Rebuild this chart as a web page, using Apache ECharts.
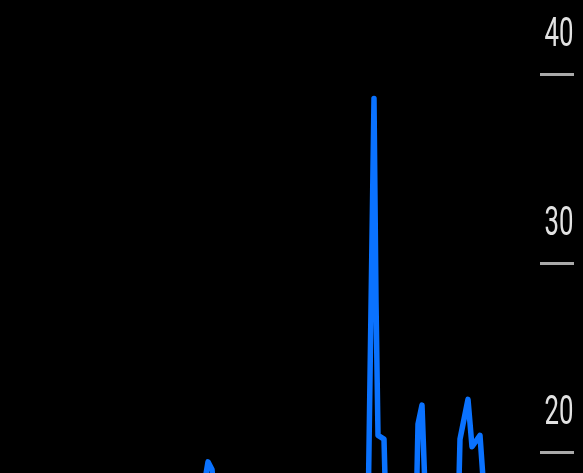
<!DOCTYPE html>
<html>
<head>
<meta charset="utf-8">
<script src="https://cdn.jsdelivr.net/npm/echarts@6/dist/echarts.min.js"></script>
<style>
  html, body { margin: 0; padding: 0; background: #000; }
  #chart { width: 583px; height: 473px; }
</style>
</head>
<body>
<div id="chart"></div>
<script>
// Trading-day index of each observation
const days = [0, 12, 25, 40, 55, 70, 85, 95, 101, 104, 106, 108,
  120, 135, 150, 165, 175, 184, 187, 188, 189, 192, 193,
  198, 203, 208, 209, 211, 213, 218, 224, 229, 230, 234, 236, 240, 243,
  250, 260, 270];
// Index level at each observation
const levels = [14.8, 13.2, 12.6, 13.9, 12.4, 13.1, 15.6, 14.7, 17.6, 19.5, 19.1, 16.9,
  15.2, 13.8, 12.9, 14.1, 15.8, 16.5, 38.7, 28.0, 20.9, 20.7, 16.6,
  15.4, 15.9, 16.4, 21.5, 22.5, 16.6, 15.1, 15.8, 16.4, 20.7, 22.8, 20.3, 20.9, 16.4,
  15.3, 14.6, 15.0];
// Right-hand scale ticks
const yTicks = [10, 20, 30, 40];

const series = days.map((d, i) => [d, levels[i]]);

const chart = echarts.init(document.getElementById('chart'), null, { renderer: 'canvas' });
chart.setOption({
  backgroundColor: '#000',
  animation: false,
  grid: { left: 0, right: 43, top: 73.8, bottom: -168.7, outerBoundsMode: 'none', containLabel: false },
  xAxis: { type: 'value', min: 0, max: 270, show: false },
  yAxis: {
    type: 'value',
    position: 'right',
    min: yTicks[0],
    max: yTicks[yTicks.length - 1],
    interval: 10,
    splitLine: { show: false },
    axisLine: { show: false, onZero: false },
    axisTick: { show: true, length: 34, lineStyle: { color: '#a9a9a9', width: 3 } },
    axisLabel: { show: false }
  },
  series: [{
    type: 'line',
    data: series,
    showSymbol: false,
    smooth: false,
    lineStyle: { color: '#0a72ff', width: 5.5, cap: 'round', join: 'round' }
  }]
});

// Condensed tick labels, placed above each tick through the axis scale
const labelRight = chart.convertToPixel({ xAxisIndex: 0 }, 270) + 33.5;
chart.setOption({
  graphic: yTicks.map(v => ({
    type: 'text',
    x: labelRight,
    y: chart.convertToPixel({ yAxisIndex: 0 }, v) - 38,
    scaleX: 0.645,
    style: {
      text: String(v),
      x: 0,
      y: 0,
      align: 'right',
      verticalAlign: 'middle',
      fill: '#e2e2e2',
      fontSize: 40,
      fontWeight: 400,
      fontFamily: 'Roboto, "Liberation Sans", sans-serif'
    }
  }))
});
</script>
</body>
</html>
